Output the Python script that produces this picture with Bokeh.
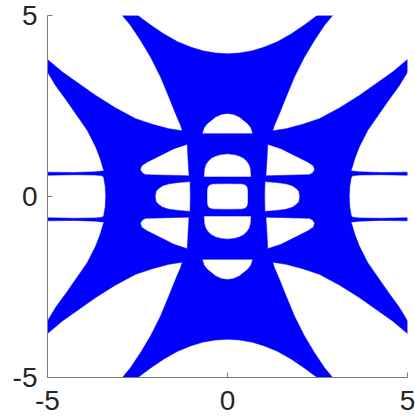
from bokeh.plotting import figure
from bokeh.models import Range1d, FixedTicker
from bokeh.embed import file_html
from bokeh.resources import INLINE

# Upper-left quarter of the outer boundary of the filled region,
# running from the notch at the top centre round to the left centre.
OUTER_X = [0.000, -0.333, -0.693, -1.026, -1.387, -1.766, -2.135, -2.490,
           -2.920, -2.690, -2.413, -2.135, -1.858, -1.628, -1.442, -1.303,
           -1.256, -1.628, -2.088, -2.551, -3.106, -3.661, -4.124, -4.584,
           -5.000, -5.000, -4.770, -4.492, -4.215, -3.896, -3.661, -3.536,
           -3.466, -3.430, -3.660, -4.270, -5.000, -5.000, -4.270, -3.660,
           -3.480, -3.439, -3.397, -3.383]
OUTER_Y = [3.944, 3.964, 4.027, 4.127, 4.278, 4.488, 4.739, 5.000,
           5.000, 4.725, 4.311, 3.850, 3.298, 2.746, 2.288, 1.965,
           1.815, 1.874, 1.993, 2.150, 2.443, 2.793, 3.116, 3.436,
           3.787, 3.436, 3.056, 2.683, 2.283, 1.827, 1.366, 1.046,
           0.806, 0.709, 0.682, 0.662, 0.673, 0.585, 0.602, 0.591,
           0.570, 0.530, 0.282, 0.000]

# Upper-left side hole (complete ring)
SIDE_UP_X = [-1.118, -1.489, -1.949, -2.227, -2.385, -2.421, -2.365, -2.274, -1.068, -1.095]
SIDE_UP_Y = [1.441, 1.322, 1.090, 0.952, 0.847, 0.737, 0.649, 0.604, 0.571, 0.999]

# Left middle hole, upper half (right centre -> left centre)
SIDE_MID_X = [-1.032, -1.040, -1.359, -1.628, -1.803, -1.905, -1.983, -2.010]
SIDE_MID_Y = [0.000, 0.411, 0.386, 0.351, 0.295, 0.226, 0.144, 0.000]

# Top dome hole, left half (apex -> bottom-left corner)
DOME_X = [0.000, -0.166, -0.333, -0.563, -0.652, -0.702]
DOME_Y = [2.296, 2.269, 2.194, 2.012, 1.896, 1.736]

# Hole above the centre, left half (apex -> bottom-left corner)
CTOP_X = [0.000, -0.194, -0.333, -0.444, -0.540, -0.610, -0.645, -0.657]
CTOP_Y = [1.179, 1.157, 1.118, 1.062, 0.975, 0.870, 0.740, 0.540]

# Central hole, upper-left quarter
CENTER_X = [0.000, -0.400, -0.480, -0.535, -0.562, -0.570, -0.570]
CENTER_Y = [0.356, 0.350, 0.330, 0.290, 0.230, 0.150, 0.000]

TICKS = [-5, 0, 5]
TICK_LABELS = ["-5", "0", "5"]


def four_fold(qx, qy):
    """Closed ring from a quarter running (0, a) -> (b, 0)."""
    rx, ry = qx[::-1], qy[::-1]
    xs = list(qx)
    ys = list(qy)
    xs += rx[1:]
    ys += [-v for v in ry[1:]]
    xs += [-v for v in qx[1:]]
    ys += [-v for v in qy[1:]]
    xs += [-v for v in rx[1:-1]]
    ys += ry[1:-1]
    return xs, ys


def mirror_x(qx, qy):
    """Closed ring from the left half of a shape symmetric about x = 0."""
    xs = list(qx) + [-v for v in qx[::-1]][:-1]
    ys = list(qy) + list(qy[::-1])[:-1]
    return xs, ys


def mirror_y(qx, qy):
    """Closed ring from the upper half of a shape symmetric about y = 0."""
    xs = list(qx) + list(qx[::-1])[1:-1]
    ys = list(qy) + [-v for v in qy[::-1]][1:-1]
    return xs, ys


def flip(ring, sx, sy):
    return [sx * v for v in ring[0]], [sy * v for v in ring[1]]


outer = four_fold(OUTER_X, OUTER_Y)
holes = []
side_up = (SIDE_UP_X, SIDE_UP_Y)
for sx in (1, -1):
    for sy in (1, -1):
        holes.append(flip(side_up, sx, sy))
side_mid = mirror_y(SIDE_MID_X, SIDE_MID_Y)
holes.append(side_mid)
holes.append(flip(side_mid, -1, 1))
dome = mirror_x(DOME_X, DOME_Y)
holes.append(dome)
holes.append(flip(dome, 1, -1))
ctop = mirror_x(CTOP_X, CTOP_Y)
holes.append(ctop)
holes.append(flip(ctop, 1, -1))
holes.append(four_fold(CENTER_X, CENTER_Y))

rings_x = [outer[0]] + [h[0] for h in holes]
rings_y = [outer[1]] + [h[1] for h in holes]

p = figure(width=415, height=420, output_backend="svg", toolbar_location=None,
           x_range=Range1d(-5, 5), y_range=Range1d(-5, 5),
           min_border_left=47, min_border_right=8,
           min_border_top=15, min_border_bottom=43)
p.outline_line_color = None
p.background_fill_color = "white"
p.border_fill_color = "white"
p.xgrid.visible = False
p.ygrid.visible = False

p.multi_polygons(xs=[[rings_x]], ys=[[rings_y]], fill_color="#0000ff",
                 line_color="#0000ff", line_width=0.5)

for ax in (p.xaxis[0], p.yaxis[0]):
    ax.ticker = FixedTicker(ticks=TICKS)
    ax.major_label_overrides = {t: s for t, s in zip(TICKS, TICK_LABELS)}
    ax.minor_tick_line_color = None
    ax.major_tick_in = 5
    ax.major_tick_out = 0
    ax.axis_line_color = "#7a7a7a"
    ax.major_tick_line_color = "#7a7a7a"
    ax.major_label_text_font = "Liberation Sans"
    ax.major_label_text_font_size = "28px"
    ax.major_label_text_color = "#262626"

p.xaxis.major_label_standoff = 13
p.yaxis.major_label_standoff = 10

open("out.html", "w").write(file_html(p, INLINE))
